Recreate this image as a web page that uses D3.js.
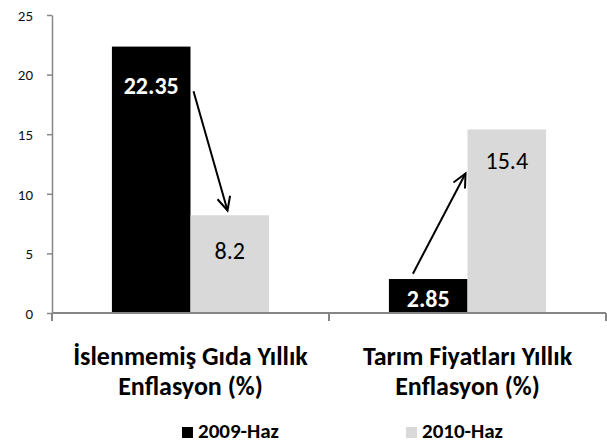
<!DOCTYPE html>
<meta charset="utf-8">
<style>
    body { margin: 0; background: #fff; }
    svg text { font-family: Carlito, Calibri, "Open Sans", sans-serif; }
    .axis path, .axis line { stroke: #868686; }
    .axis text { fill: #111; font-size: 15px; }
</style>
<svg width="607" height="444"></svg>
<script src="https://cdn.jsdelivr.net/npm/d3@7"></script>
<script>
    let categories = ["İslenmemiş Gıda Yıllık|Enflasyon (%)", "Tarım Fiyatları Yıllık|Enflasyon (%)"];
    let series = ["2009-Haz", "2010-Haz"];
    let values2009 = [22.35, 2.85];
    let values2010 = [8.2, 15.4];
    let yTicks = [0, 5, 10, 15, 20, 25];
    let colors = ["#000000", "#d9d9d9"];
    // label baseline offsets below the bar top, per series / category
    let labelDy = [[47, 28], [44, 40]];

    let svg = d3.select("svg");
    let mLeft = 52, mRight = 606, mTop = 15, mBottom = 313;

    let x = d3.scaleBand().domain(d3.range(categories.length)).range([mLeft, mRight]);
    let xSub = d3.scaleBand().domain(d3.range(series.length))
            .range([0, x.bandwidth()]).paddingOuter(0.7625).paddingInner(0);
    let y = d3.scaleLinear().domain([0, 25]).range([mBottom, mTop]);

    // y axis
    let yAxis = svg.append("g").attr("class", "axis")
            .attr("transform", "translate(" + mLeft + ",0)")
            .call(d3.axisLeft(y).tickValues(yTicks).tickSize(5).tickPadding(14).tickSizeOuter(0));
    yAxis.select(".domain").attr("stroke-width", 1.5);
    yAxis.selectAll("line").attr("stroke-width", 1.5);
    yAxis.selectAll("text").attr("dy", "0.35em");

    // bars
    let data = [values2009, values2010];
    let groups = svg.selectAll("g.grp").data(d3.range(categories.length)).enter()
            .append("g").attr("class", "grp")
            .attr("transform", (i) => "translate(" + x(i) + ",0)");

    groups.selectAll("rect").data((i) => data.map((s, j) => ({ s: j, c: i, v: s[i] })))
            .enter().append("rect")
            .attr("x", (d) => xSub(d.s))
            .attr("width", xSub.bandwidth())
            .attr("y", (d) => y(d.v))
            .attr("height", (d) => mBottom - y(d.v))
            .attr("fill", (d) => colors[d.s]);

    // value labels
    groups.selectAll("text.val").data((i) => data.map((s, j) => ({ s: j, c: i, v: s[i] })))
            .enter().append("text")
            .attr("class", "val")
            .attr("x", (d) => xSub(d.s) + xSub.bandwidth() / 2)
            .attr("y", (d) => y(d.v) + labelDy[d.s][d.c])
            .attr("text-anchor", "middle")
            .attr("font-size", "24px")
            .attr("font-weight", (d) => d.s === 0 ? "bold" : "normal")
            .attr("fill", (d) => d.s === 0 ? "#fff" : "#000")
            .text((d) => d.v);

    // x axis
    let xAxis = svg.append("g").attr("class", "axis")
            .attr("transform", "translate(0," + mBottom + ")");
    xAxis.append("line").attr("x1", mLeft).attr("x2", mRight).attr("stroke-width", 2);
    [mLeft, x(1), mRight].forEach((p) => {
        xAxis.append("line").attr("x1", p).attr("x2", p).attr("y1", 0).attr("y2", 8).attr("stroke-width", 2);
    });

    // category labels
    categories.forEach((c, i) => {
        let t = svg.append("text")
                .attr("x", x(i) + x.bandwidth() / 2)
                .attr("y", 365)
                .attr("text-anchor", "middle")
                .attr("font-size", "26px")
                .attr("font-weight", "bold")
                .attr("fill", "#000");
        c.split("|").forEach((line, k) => {
            t.append("tspan").attr("x", x(i) + x.bandwidth() / 2).attr("dy", k ? 30 : 0).text(line);
        });
    });

    // arrows
    let arrows = [
        { c: 0, fromV: 18.6, toV: 8.6 },
        { c: 1, fromV: 3.3, toV: 11.7 }
    ];
    arrows.forEach((a) => {
        let x1, x2;
        if (a.c === 0) {
            x1 = x(a.c) + xSub(1) + 3;
            x2 = x(a.c) + xSub(1) + 37;
        } else {
            x1 = x(a.c) + xSub(0) + 24;
            x2 = x(a.c) + xSub(1) - 2;
        }
        let y1 = y(a.fromV), y2 = y(a.toV);
        let ang = Math.atan2(y2 - y1, x2 - x1), h = 15, w = 0.45;
        let p1 = [x2 - h * Math.cos(ang - w), y2 - h * Math.sin(ang - w)];
        let p2 = [x2 - h * Math.cos(ang + w), y2 - h * Math.sin(ang + w)];
        svg.append("line").attr("x1", x1).attr("y1", y1).attr("x2", x2).attr("y2", y2)
                .attr("stroke", "#000").attr("stroke-width", 2);
        svg.append("path").attr("d", "M" + p1 + "L" + [x2, y2] + "L" + p2)
                .attr("fill", "none").attr("stroke", "#000").attr("stroke-width", 2);
    });

    // legend
    let legendX = [182, 406];
    series.forEach((s, i) => {
        svg.append("rect").attr("x", legendX[i]).attr("y", 427).attr("width", 11).attr("height", 11)
                .attr("fill", colors[i]);
        svg.append("text").attr("x", legendX[i] + 16).attr("y", 438)
                .attr("font-size", "21px").attr("font-weight", "bold").attr("fill", "#000").text(s);
    });
</script>
